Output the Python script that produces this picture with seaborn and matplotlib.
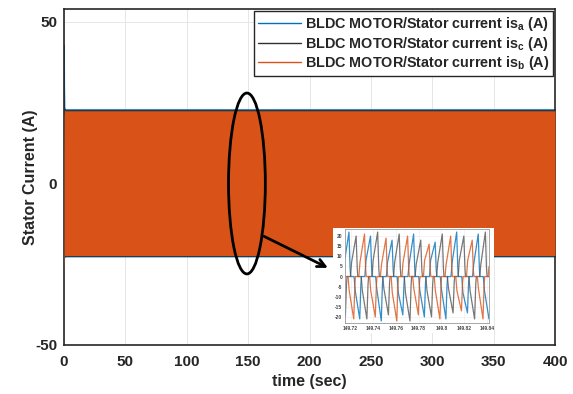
import numpy as np
import pandas as pd
import matplotlib
matplotlib.use('Agg')
import matplotlib.pyplot as plt
import seaborn as sns
from matplotlib.patches import Ellipse, Rectangle
from matplotlib.lines import Line2D

# ---- main plot: envelope of the three phase currents (A) over time (sec)
env_t = [0.0, 0.15, 0.4, 1.0, 400.0]
blue_hi = [43.0, 30.0, 23.4, 23.0, 23.0]
blue_lo = [0.0, -20.0, -22.8, -22.6, -22.6]
black_hi = [20.0, 22.0, 23.2, 22.8, 22.8]
black_lo = [-20.0, -22.0, -22.6, -22.5, -22.5]
orange_hi = [10.0, 21.0, 22.8, 22.5, 22.5]
orange_lo = [-30.0, -25.0, -22.4, -22.3, -22.3]

# ---- zoomed window: vertices, time in ms after 149.715 s
blue_ms = [0, 3.5, 4.5, 5, 8, 9, 13, 14, 14.5, 17.5, 18.5, 22.5, 23.5, 24, 27, 28, 32, 33, 33.5,
           36.5, 37.5, 41.5, 42.5, 43, 46, 47, 51, 52, 52.5, 55.5, 56.5, 60.5, 61.5, 62, 65, 66,
           70, 71, 71.5, 74.5, 75.5, 79.5, 80.5, 81, 84, 85, 89, 90, 90.5, 93.5, 94.5, 98.5,
           99.5, 100, 103, 104, 108, 109, 109.5, 112.5, 113.5, 117.5, 118.5, 119, 122, 123, 127]
blue_a = [9, 22, 4, 0, 0, -7, -21, -4, 0, 0, 8, 20, 4, 0, 0, -6, -22, -4, 0,
          0, 7, 18, 3, 0, 0, -8, -19, -4, 0, 0, 6, 21, 4, 0, 0, -7,
          -20, -3, 0, 0, 8, 17, 3, 0, 0, -6, -21, -4, 0, 0, 7, 22,
          4, 0, 0, -8, -18, -3, 0, 0, 6, 21, 4, 0, 0, -7, -21]

black_ms = [0, 0.3, 1.3, 1.8, 4.8, 5.8, 9.8, 10.8, 11.3, 14.3, 15.3, 19.3, 20.3, 20.8, 23.8, 24.8,
            28.8, 29.8, 30.3, 33.3, 34.3, 38.3, 39.3, 39.8, 42.8, 43.8, 47.8, 48.8, 49.3, 52.3,
            53.3, 57.3, 58.3, 58.8, 61.8, 62.8, 66.8, 67.8, 68.3, 71.3, 72.3, 76.3, 77.3, 77.8,
            80.8, 81.8, 85.8, 86.8, 87.3, 90.3, 91.3, 95.3, 96.3, 96.8, 99.8, 100.8, 104.8,
            105.8, 106.3, 109.3, 110.3, 114.3, 115.3, 115.8, 118.8, 119.8, 123.8, 124.8, 125.3, 127]
black_a = [-17, -20, -4, 0, 0, 7, 20, 4, 0, 0, -7, -21, -4, 0, 0, 8,
           22, 4, 0, 0, -6, -19, -3, 0, 0, 7, 21, 4, 0, 0,
           -8, -22, -4, 0, 0, 6, 18, 3, 0, 0, -7, -20, -4, 0,
           0, 7, 21, 4, 0, 0, -6, -18, -3, 0, 0, 8, 20,
           4, 0, 0, -7, -21, -4, 0, 0, 6, 22, 4, 0, 0]

orange_ms = [0, 2.7, 3.7, 7.7, 8.7, 9.2, 12.2, 13.2, 17.2, 18.2, 18.7, 21.7, 22.7, 26.7, 27.7, 28.2,
             31.2, 32.2, 36.2, 37.2, 37.7, 40.7, 41.7, 45.7, 46.7, 47.2, 50.2, 51.2, 55.2, 56.2,
             56.7, 59.7, 60.7, 64.7, 65.7, 66.2, 69.2, 70.2, 74.2, 75.2, 75.7, 78.7, 79.7, 83.7,
             84.7, 85.2, 88.2, 89.2, 93.2, 94.2, 94.7, 97.7, 98.7, 102.7, 103.7, 104.2, 107.2,
             108.2, 112.2, 113.2, 113.7, 116.7, 117.7, 121.7, 122.7, 123.2, 126.2, 127]
orange_a = [0, 0, -7, -21, -4, 0, 0, 7, 21, 4, 0, 0, -7, -20, -4, 0,
            0, 6, 19, 3, 0, 0, -8, -22, -4, 0, 0, 7, 20, 4,
            0, 0, -6, -19, -3, 0, 0, 8, 16, 3, 0, 0, -7, -21,
            -4, 0, 0, 6, 20, 4, 0, 0, -7, -17, -3, 0, 0,
            8, 18, 3, 0, 0, -6, -21, -4, 0, 0, 5]

t0 = 149.715
xticks_main = [0, 50, 100, 150, 200, 250, 300, 350, 400]
yticks_main = [-50, 0, 50]
inset_xticks = [149.72, 149.74, 149.76, 149.78, 149.80, 149.82, 149.84]
inset_xlabels = ['149.72', '149.74', '149.76', '149.78', '149.8', '149.82', '149.84']
inset_yticks = [-20, -15, -10, -5, 0, 5, 10, 15, 20]

c_blue = '#0072BD'
c_black = '#303030'
c_orange = '#D95319'

sns.set_theme(style='white')
plt.rcParams['font.family'] = ['Liberation Sans', 'DejaVu Sans']
plt.rcParams['font.weight'] = 'bold'
plt.rcParams['axes.unicode_minus'] = False
plt.rcParams['mathtext.fontset'] = 'custom'
plt.rcParams['mathtext.rm'] = 'Liberation Sans:bold'
plt.rcParams['mathtext.it'] = 'Liberation Sans:bold'
plt.rcParams['mathtext.bf'] = 'Liberation Sans:bold'

fig = plt.figure(figsize=(5.73, 3.94), dpi=100)
ax = fig.add_axes([0.1117, 0.1244, 0.857, 0.8526])

ax.fill_between(env_t, blue_lo, blue_hi, color=c_blue, lw=0.6, zorder=2)
ax.fill_between(env_t, black_lo, black_hi, color=c_black, lw=0.4, zorder=3)
ax.fill_between(env_t, orange_lo, orange_hi, color=c_orange, lw=0, zorder=4)

ax.set_xlim(0, 400)
ax.set_ylim(-50, 54)
ax.set_xticks(xticks_main)
ax.set_yticks(yticks_main)
ax.tick_params(direction='in', length=4, width=1, labelsize=11, colors='#262626')
ax.tick_params(axis='x', pad=7)
ax.tick_params(axis='y', pad=5)
for lab in ax.get_xticklabels() + ax.get_yticklabels():
    lab.set_fontweight('bold')
ax.grid(True, color='#e6e6e6', lw=0.7, zorder=0)
ax.set_axisbelow(True)
for s in ax.spines.values():
    s.set_color('#262626')
    s.set_linewidth(1.2)
ax.set_xlabel('time (sec)', fontsize=11.5, fontweight='bold', labelpad=4)
ax.set_ylabel('Stator Current (A)', fontsize=11.5, fontweight='bold', labelpad=-2)

handles = [Line2D([], [], color=c_blue, lw=1),
           Line2D([], [], color=c_black, lw=1),
           Line2D([], [], color=c_orange, lw=1)]
labels = ['BLDC MOTOR/Stator current is$_{a}$ (A)',
          'BLDC MOTOR/Stator current is$_{c}$ (A)',
          'BLDC MOTOR/Stator current is$_{b}$ (A)']
leg = ax.legend(handles, labels, loc='upper right', fontsize=10.4, handlelength=3.0,
                handletextpad=0.25, borderpad=0.25, labelspacing=0.12, fancybox=False,
                framealpha=1, edgecolor='#262626', borderaxespad=0.15)
leg.get_frame().set_linewidth(1.0)
leg.set_zorder(20)
for txt in leg.get_texts():
    txt.set_fontweight('bold')

ax.add_patch(Ellipse((149, 0), 30, 56, fill=False, ec='black', lw=2, zorder=10))
ax.annotate('', xy=(217, -26.5), xytext=(161, -16),
            arrowprops=dict(arrowstyle='->', lw=2, color='black', mutation_scale=14), zorder=10)

# white card behind the inset
ax.add_patch(Rectangle((333 / 573, 1 - 333 / 394), 161 / 573, 105 / 394,
                       transform=fig.transFigure, fc='white', ec='none', zorder=12, clip_on=False))

ins = fig.add_axes([345 / 573, 1 - 323 / 394, 144 / 573, 94 / 394])
ins.set_zorder(30)
df = pd.concat([
    pd.DataFrame({'t': t0 + np.array(blue_ms) / 1000, 'i': blue_a, 'ph': 'a'}),
    pd.DataFrame({'t': t0 + np.array(black_ms) / 1000, 'i': black_a, 'ph': 'c'}),
    pd.DataFrame({'t': t0 + np.array(orange_ms) / 1000, 'i': orange_a, 'ph': 'b'}),
])
sns.lineplot(data=df, x='t', y='i', hue='ph', palette={'a': c_blue, 'c': '#555555', 'b': c_orange},
             estimator=None, sort=False, lw=0.9, alpha=0.8, legend=False, ax=ins)
ins.set_xlim(t0, t0 + 0.127)
ins.set_ylim(-23, 23.5)
ins.set_xticks(inset_xticks)
ins.set_xticklabels(inset_xlabels)
ins.set_yticks(inset_yticks)
ins.set_xlabel('')
ins.set_ylabel('')
ins.tick_params(direction='in', length=2, width=0.5, labelsize=3.5, colors='#444444', pad=2)
ins.grid(True, color='#eeeeee', lw=0.5)
for s in ins.spines.values():
    s.set_color('#999999')
    s.set_linewidth(0.6)

fig.savefig('out.png', dpi=100)
